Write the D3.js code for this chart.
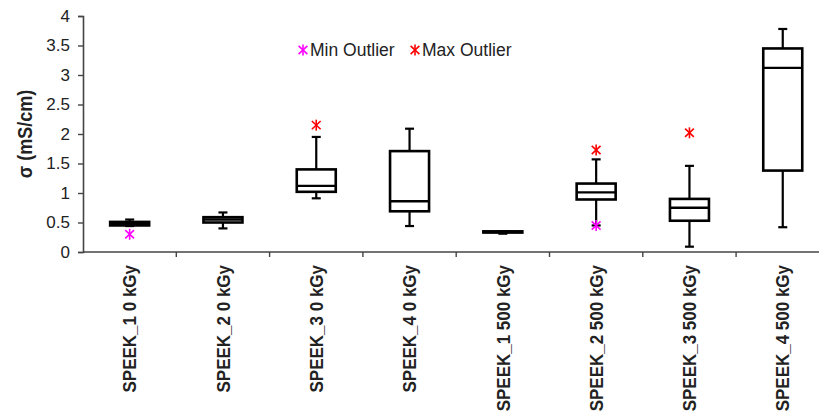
<!DOCTYPE html>
<html>
<head>
<meta charset="utf-8">
<script src="https://cdn.jsdelivr.net/npm/d3@7"></script>
<style>
  html, body { margin: 0; padding: 0; background: #fff; }
  svg { display: block; }
  text { font-family: "Liberation Sans", Arial, sans-serif; fill: #222; }
</style>
</head>
<body>
<svg id="chart" width="819" height="414"></svg>
<script>
// Conductivity box plots per membrane / dose
const categories = ["SPEEK_1 0 kGy", "SPEEK_2 0 kGy", "SPEEK_3 0 kGy", "SPEEK_4 0 kGy",
                    "SPEEK_1 500 kGy", "SPEEK_2 500 kGy", "SPEEK_3 500 kGy", "SPEEK_4 500 kGy"];
const whiskerLow  = [0.44, 0.40, 0.91, 0.44, 0.31, 0.45, 0.09, 0.42];
const quartile1   = [0.45, 0.50, 1.02, 0.69, 0.33, 0.89, 0.53, 1.38];
const medians     = [0.48, 0.55, 1.12, 0.86, 0.34, 1.01, 0.75, 3.12];
const quartile3   = [0.51, 0.59, 1.40, 1.71, 0.35, 1.16, 0.90, 3.45];
const whiskerHigh = [0.55, 0.67, 1.95, 2.09, 0.35, 1.57, 1.46, 3.78];
const minOutliers = [0.30, null, null, null, null, 0.45, null, null];
const maxOutliers = [null, null, 2.15, null, null, 1.73, 2.02, null];
const yTicks      = [0, 0.5, 1, 1.5, 2, 2.5, 3, 3.5, 4];
const yTitle      = "σ (mS/cm)";
const legendItems = [{ label: "Min Outlier", color: "#ff00ff" }, { label: "Max Outlier", color: "#ff0000" }];

const svg = d3.select("#chart");
const plotLeft = 83, plotRight = 829.4, plotTop = 16, plotBottom = 252;

const x = d3.scaleBand().domain(categories).range([plotLeft, plotRight]).padding(0);
const y = d3.scaleLinear().domain([0, 4]).range([plotBottom, plotTop]);

const boxW = 39, capW = 9;

// y axis
const yAxis = d3.axisLeft(y).tickValues(yTicks).tickSize(5).tickPadding(8)
  .tickFormat(d3.format("~g"));
const gy = svg.append("g").attr("transform", `translate(${plotLeft},0)`).call(yAxis);
gy.select(".domain").attr("stroke", "#444").attr("stroke-width", 1.6);
gy.selectAll(".tick line").attr("stroke", "#444").attr("stroke-width", 1.4);
gy.selectAll(".tick text").attr("font-size", 17).attr("fill", "#222")
  .style("font-family", "'Liberation Sans', Arial, sans-serif");

// x axis with ticks on category boundaries
svg.append("line").attr("x1", plotLeft).attr("x2", plotRight)
  .attr("y1", plotBottom).attr("y2", plotBottom).attr("stroke", "#444").attr("stroke-width", 1.6);
svg.append("g").selectAll("line").data(categories)
  .join("line")
  .attr("x1", d => x(d) + x.bandwidth())
  .attr("x2", d => x(d) + x.bandwidth())
  .attr("y1", plotBottom).attr("y2", plotBottom + 5)
  .attr("stroke", "#444").attr("stroke-width", 1.4);

// category labels, rotated (glyphs slightly widened across the page)
svg.append("g").selectAll("text").data(categories).join("text")
  .attr("transform", d => `translate(${x(d) + x.bandwidth() / 2},265) scale(1.12,1) rotate(-90)`)
  .attr("text-anchor", "end").attr("dy", "0.35em")
  .attr("font-size", 17).attr("font-weight", "bold")
  .text(d => d);

// y title
svg.append("text")
  .attr("transform", `translate(25,${(plotTop + plotBottom) / 2}) scale(1.1,1) rotate(-90)`)
  .attr("text-anchor", "middle").attr("dy", "0.35em")
  .attr("font-size", 18).attr("font-weight", "bold")
  .text(yTitle);

// boxes
const boxes = svg.append("g").selectAll("g").data(categories).join("g")
  .attr("transform", d => `translate(${x(d) + x.bandwidth() / 2},0)`);

boxes.append("line").attr("x1", 0).attr("x2", 0)
  .attr("y1", (d, i) => y(quartile3[i])).attr("y2", (d, i) => y(whiskerHigh[i]))
  .attr("stroke", "#000").attr("stroke-width", 2.2);
boxes.append("line").attr("x1", 0).attr("x2", 0)
  .attr("y1", (d, i) => y(quartile1[i])).attr("y2", (d, i) => y(whiskerLow[i]))
  .attr("stroke", "#000").attr("stroke-width", 2.2);
boxes.append("line").attr("x1", -capW / 2).attr("x2", capW / 2)
  .attr("y1", (d, i) => y(whiskerHigh[i])).attr("y2", (d, i) => y(whiskerHigh[i]))
  .attr("stroke", "#000").attr("stroke-width", 2.2);
boxes.append("line").attr("x1", -capW / 2).attr("x2", capW / 2)
  .attr("y1", (d, i) => y(whiskerLow[i])).attr("y2", (d, i) => y(whiskerLow[i]))
  .attr("stroke", "#000").attr("stroke-width", 2.2);
boxes.append("rect").attr("x", -boxW / 2).attr("width", boxW)
  .attr("y", (d, i) => y(quartile3[i]))
  .attr("height", (d, i) => y(quartile1[i]) - y(quartile3[i]))
  .attr("fill", "#fff").attr("stroke", "#000").attr("stroke-width", 2.6);
boxes.append("line").attr("x1", -boxW / 2).attr("x2", boxW / 2)
  .attr("y1", (d, i) => y(medians[i])).attr("y2", (d, i) => y(medians[i]))
  .attr("stroke", "#000").attr("stroke-width", 2.4);

// asterisk marker
function star(g, cx, cy, color, r = 5.5) {
  const s = g.append("g").attr("transform", `translate(${cx},${cy})`)
    .attr("stroke", color).attr("stroke-width", 1.6);
  s.append("line").attr("x1", 0).attr("x2", 0).attr("y1", -r).attr("y2", r);
  s.append("line").attr("x1", -r * 0.8).attr("x2", r * 0.8).attr("y1", -r * 0.75).attr("y2", r * 0.75);
  s.append("line").attr("x1", -r * 0.8).attr("x2", r * 0.8).attr("y1", r * 0.75).attr("y2", -r * 0.75);
}

const outG = svg.append("g");
categories.forEach((c, i) => {
  const cx = x(c) + x.bandwidth() / 2;
  if (minOutliers[i] != null) star(outG, cx, y(minOutliers[i]), legendItems[0].color);
  if (maxOutliers[i] != null) star(outG, cx, y(maxOutliers[i]), legendItems[1].color);
});

// legend
const legendX = [303, 415];
legendItems.forEach((it, i) => {
  star(svg, legendX[i], 50, it.color);
  svg.append("text").attr("x", legendX[i] + 7).attr("y", 50).attr("dy", "0.35em")
    .attr("font-size", 17.5).text(it.label);
});
</script>
</body>
</html>
